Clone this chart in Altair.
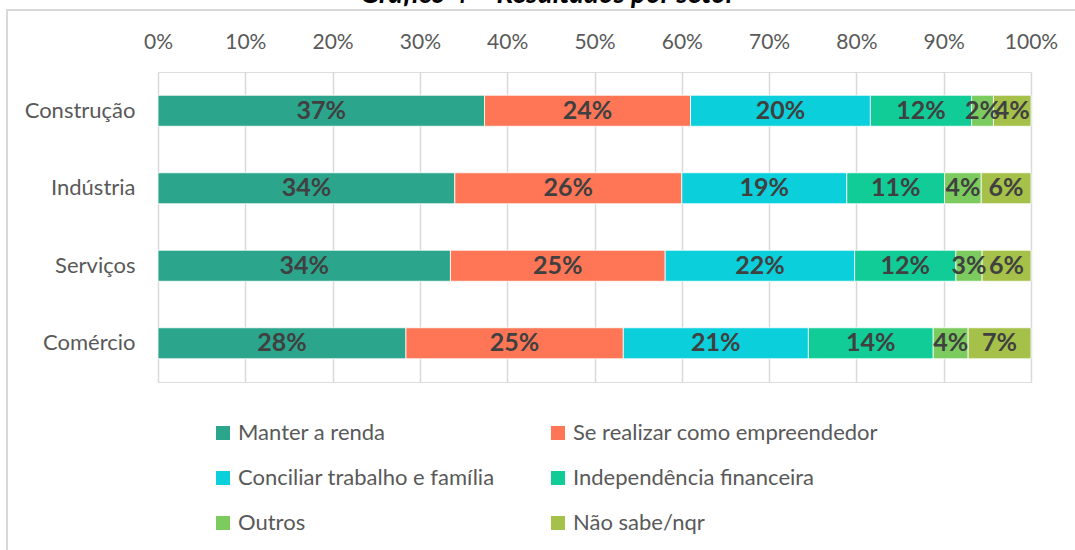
import altair as alt
import pandas as pd

setores = ["Construção", "Indústria", "Serviços", "Comércio"]
motivos = [
    "Manter a renda",
    "Se realizar como empreendedor",
    "Conciliar trabalho e família",
    "Independência financeira",
    "Outros",
    "Não sabe/nqr",
]
cores = ["#2CA58D", "#FF7657", "#0BCFDA", "#12CC98", "#7BCB5E", "#A5C14A"]

construcao = [37.4, 23.6, 20.6, 11.6, 2.5, 4.3]
industria = [34.0, 26.0, 18.9, 11.2, 4.2, 5.7]
servicos = [33.5, 24.6, 21.7, 11.6, 3.0, 5.6]
comercio = [28.4, 24.9, 21.2, 14.3, 4.0, 7.2]

rot_construcao = ["37%", "24%", "20%", "12%", "2%", "4%"]
rot_industria = ["34%", "26%", "19%", "11%", "4%", "6%"]
rot_servicos = ["34%", "25%", "22%", "12%", "3%", "6%"]
rot_comercio = ["28%", "25%", "21%", "14%", "4%", "7%"]

ticks = [0, 10, 20, 30, 40, 50, 60, 70, 80, 90, 100]
titulo = "Gráfico 4 – Resultados por setor"

rows = []
for setor, vals, rots in zip(
    setores,
    [construcao, industria, servicos, comercio],
    [rot_construcao, rot_industria, rot_servicos, rot_comercio],
):
    for i, (m, v, r) in enumerate(zip(motivos, vals, rots)):
        rows.append({"setor": setor, "motivo": m, "ordem": i, "valor": v, "rotulo": r})
df = pd.DataFrame(rows)

# legend is filled column by column: order entries so rows read left-to-right
legend_order = [0, 2, 4, 1, 3, 5]
dom_legenda = [motivos[i] for i in legend_order]
cores_legenda = [cores[i] for i in legend_order]

FONT = "Lato"
GRAY = "#595959"

base = (
    alt.Chart(df)
    .transform_stack(
        stack="valor",
        groupby=["setor"],
        as_=["v0", "v1"],
        sort=[alt.SortField("ordem", order="ascending")],
    )
    .transform_calculate(meio="(datum.v0 + datum.v1) / 2")
)

y_enc = alt.Y(
    "setor:N",
    sort=setores,
    title=None,
    scale=alt.Scale(paddingInner=0.6, paddingOuter=0.3),
    axis=alt.Axis(
        domain=False,
        ticks=False,
        labelFontSize=22,
        labelColor=GRAY,
        labelFont=FONT,
        labelPadding=23,
    ),
)

bars = base.mark_bar(stroke="white", strokeWidth=0.8).encode(
    y=y_enc,
    x=alt.X(
        "v0:Q",
        scale=alt.Scale(domain=[0, 100]),
        title=None,
        axis=alt.Axis(
            orient="top",
            values=ticks,
            labelExpr="datum.value + '%'",
            domain=False,
            ticks=False,
            grid=True,
            gridColor="#D9D9D9",
            gridWidth=1.5,
            labelFontSize=21,
            labelColor=GRAY,
            labelFont=FONT,
            labelPadding=20,
            labelFlush=False,
            labelOverlap=False,
        ),
    ),
    x2="v1:Q",
    color=alt.Color(
        "motivo:N",
        scale=alt.Scale(domain=dom_legenda, range=cores_legenda),
        legend=alt.Legend(
            title=None,
            orient="none",
            legendX=54,
            legendY=350,
            columns=2,
            symbolType="square",
            symbolSize=196,
            symbolStrokeWidth=0,
            labelFontSize=22,
            labelColor=GRAY,
            labelFont=FONT,
            labelOffset=4,
            columnPadding=52,
            rowPadding=23,
            labelLimit=500,
        ),
    ),
)

labels = base.mark_text(
    fontSize=25, fontWeight="bold", color="#404040", font=FONT, baseline="middle"
).encode(
    y=alt.Y("setor:N", sort=setores),
    x=alt.X("meio:Q"),
    text="rotulo:N",
)

one = pd.DataFrame({"a": [0]})
frame_left = alt.Chart(one).mark_rule(color="#D9D9D9", strokeWidth=2).encode(
    x=alt.value(-151), y=alt.value(-62), y2=alt.value(480)
)
frame_top = alt.Chart(one).mark_rule(color="#D9D9D9", strokeWidth=2).encode(
    x=alt.value(-152), x2=alt.value(920), y=alt.value(-62)
)
title_mark = alt.Chart(one).mark_text(
    text=titulo,
    fontSize=28,
    fontWeight="bold",
    fontStyle="italic",
    font=FONT,
    align="center",
    baseline="alphabetic",
    color="#000000",
).encode(x=alt.value(390), y=alt.value(-69))

chart = (
    alt.layer(bars, labels, frame_left, frame_top, title_mark)
    .properties(
        width=873,
        height=310,
        padding={"left": 158, "top": 72, "right": 44, "bottom": 168},
        autosize=alt.AutoSizeParams(type="none"),
    )
    .configure_view(stroke=None)
    .configure(font=FONT)
)

chart.save("out.html", embed_options={"renderer": "svg", "actions": False})
